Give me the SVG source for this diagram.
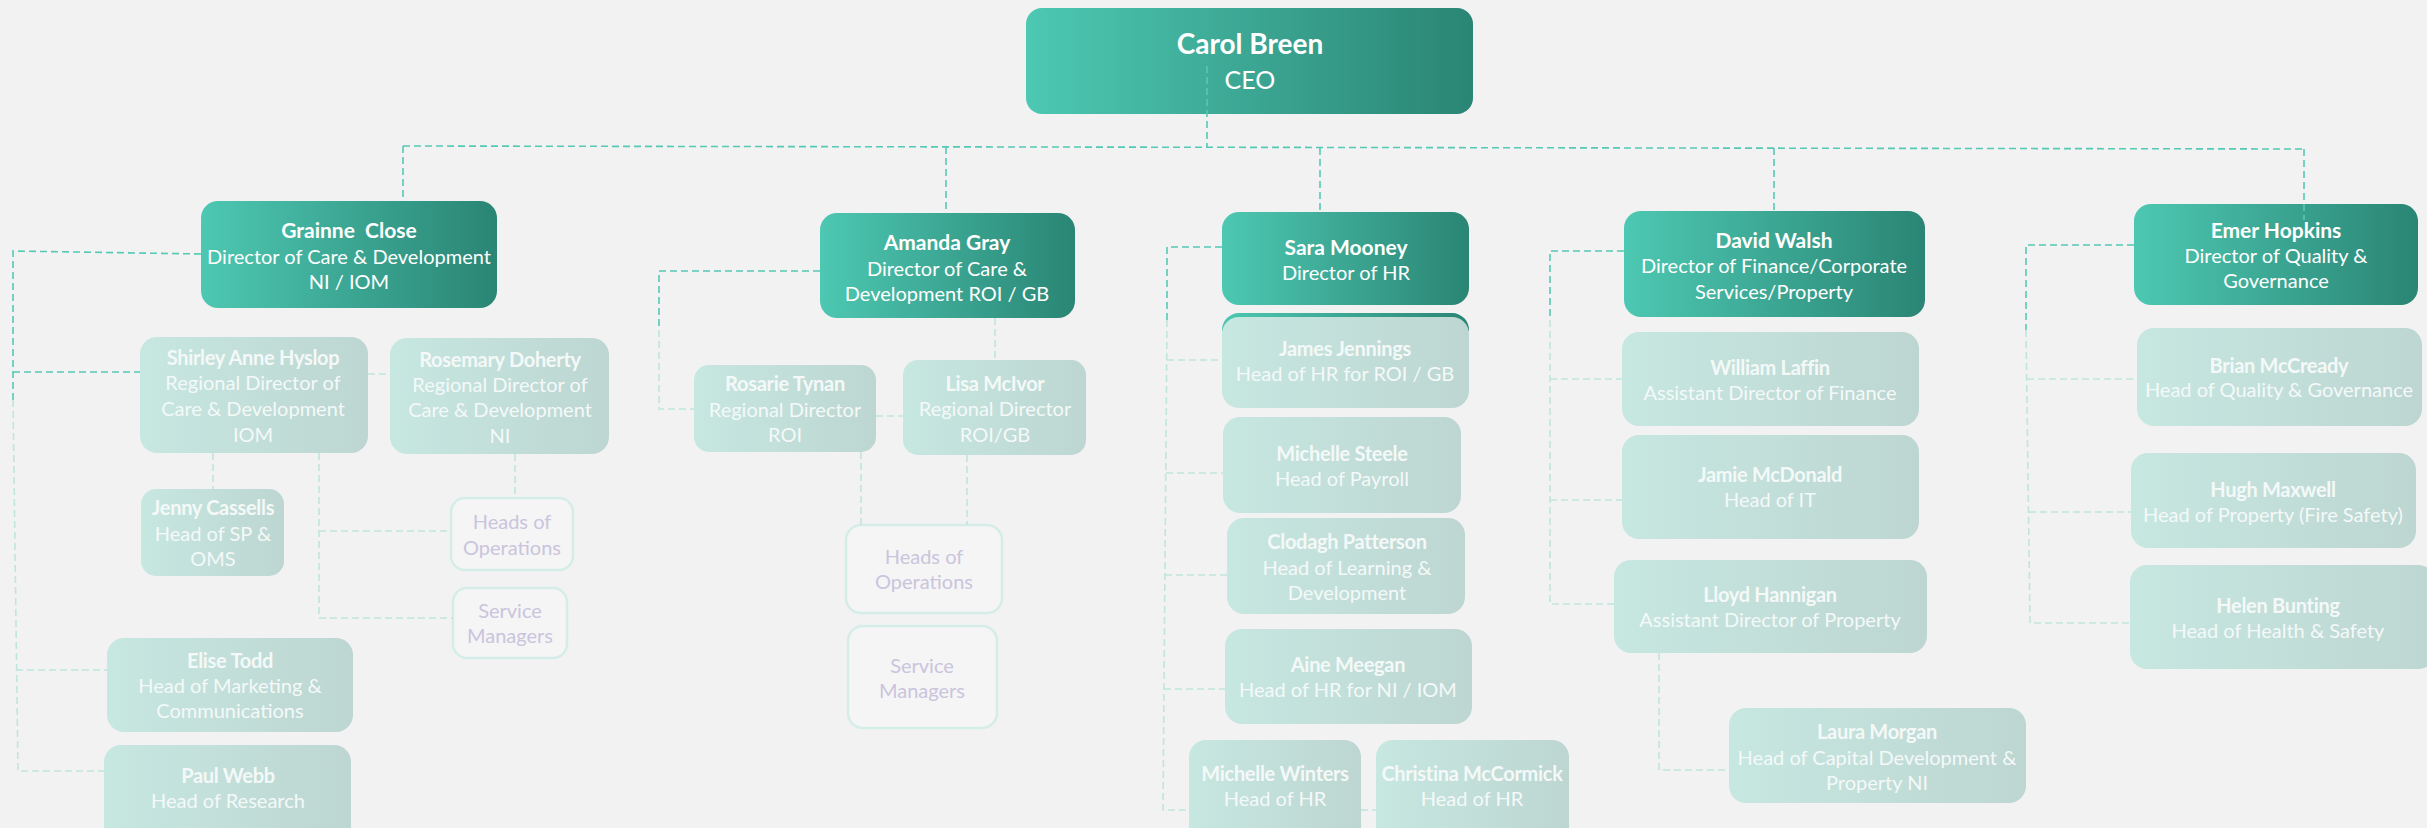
<svg xmlns="http://www.w3.org/2000/svg" width="2427" height="828" viewBox="0 0 2427 828">
<defs>
<linearGradient id="gDir" x1="0" y1="0" x2="1" y2="0">
<stop offset="0" stop-color="#4dc8b2"/>
<stop offset="1" stop-color="#2a8574"/>
</linearGradient>
<linearGradient id="gSub" x1="0" y1="0" x2="1" y2="0">
<stop offset="0" stop-color="#c7e7e1"/>
<stop offset="1" stop-color="#bdd6d1"/>
</linearGradient>
<style>
.dir{fill:url(#gDir)}
.sub{fill:url(#gSub)}
.ops{fill:#f5f5f5;stroke:#d5ede8;stroke-width:2.5}
text{font-family:Lato,"Open Sans","Liberation Sans",sans-serif;text-anchor:middle}
.dn{font-size:21px;font-weight:bold;fill:#ffffff}
.dr{font-size:20px;fill:#ffffff}
.sn{font-size:20px;font-weight:bold;fill:#f4f9f8;letter-spacing:-0.3px}
.sr{font-size:20px;fill:#f4f9f8}
.ot{font-size:20px;fill:#cac4dd}
.c1{fill:none;stroke:#55c9b5;stroke-width:1.6;stroke-dasharray:7 4}
.c2{fill:none;stroke:#c0e5dd;stroke-width:1.6;stroke-dasharray:7 4}
</style>
</defs>
<rect width="2427" height="828" fill="#f2f2f2"/>

<g id="ceo">
<rect class="dir" x="1026" y="8" width="447" height="106" rx="16"/>
<text x="1250" y="54" style="font-size:28px;font-weight:bold;fill:#fff">Carol Breen</text>
<text x="1250" y="89" style="font-size:25px;fill:#fff">CEO</text>
</g>

<g id="grainne">
<rect class="dir" x="201" y="201" width="296" height="107" rx="17"/>
<text class="dn" x="349" y="238" xml:space="preserve">Grainne  Close</text>
<text class="dr" x="349" y="264">Director of Care &amp; Development</text>
<text class="dr" x="349" y="289">NI / IOM</text>
</g>

<g id="amanda">
<rect class="dir" x="820" y="213" width="255" height="105" rx="17"/>
<text class="dn" x="947" y="250">Amanda Gray</text>
<text class="dr" x="947" y="276">Director of Care &amp;</text>
<text class="dr" x="947" y="301">Development ROI / GB</text>
</g>

<g id="sara">
<rect class="dir" x="1222" y="212" width="247" height="93" rx="17"/>
<text class="dn" x="1346" y="255">Sara Mooney</text>
<text class="dr" x="1346" y="280">Director of HR</text>
</g>

<g id="david">
<rect class="dir" x="1624" y="211" width="301" height="106" rx="17"/>
<text class="dn" x="1774" y="248">David Walsh</text>
<text class="dr" x="1774" y="273">Director of Finance/Corporate</text>
<text class="dr" x="1774" y="299">Services/Property</text>
</g>

<g id="emer">
<rect class="dir" x="2134" y="204" width="284" height="101" rx="17"/>
<text class="dn" x="2276" y="238">Emer Hopkins</text>
<text class="dr" x="2276" y="263">Director of Quality &amp;</text>
<text class="dr" x="2276" y="288">Governance</text>
</g>

<g id="shirley">
<rect class="sub" x="140" y="337" width="228" height="116" rx="17"/>
<text class="sn" x="253" y="365">Shirley Anne Hyslop</text>
<text class="sr" x="253" y="390">Regional Director of</text>
<text class="sr" x="253" y="416">Care &amp; Development</text>
<text class="sr" x="253" y="442">IOM</text>
</g>

<g id="rosemary">
<rect class="sub" x="390" y="338" width="219" height="116" rx="17"/>
<text class="sn" x="500" y="367">Rosemary Doherty</text>
<text class="sr" x="500" y="392">Regional Director of</text>
<text class="sr" x="500" y="417">Care &amp; Development</text>
<text class="sr" x="500" y="443">NI</text>
</g>

<g id="jenny">
<rect class="sub" x="141" y="489" width="143" height="87" rx="15"/>
<text class="sn" x="213" y="515">Jenny Cassells</text>
<text class="sr" x="213" y="541">Head of SP &amp;</text>
<text class="sr" x="213" y="566">OMS</text>
</g>

<g id="ops-ni">
<rect class="ops" x="451" y="498" width="122" height="72" rx="14"/>
<text class="ot" x="512" y="529">Heads of</text>
<text class="ot" x="512" y="555">Operations</text>
</g>

<g id="sm-ni">
<rect class="ops" x="453" y="588" width="114" height="70" rx="14"/>
<text class="ot" x="510" y="618">Service</text>
<text class="ot" x="510" y="643">Managers</text>
</g>

<g id="elise">
<rect class="sub" x="107" y="638" width="246" height="94" rx="17"/>
<text class="sn" x="230" y="668">Elise Todd</text>
<text class="sr" x="230" y="693">Head of Marketing &amp;</text>
<text class="sr" x="230" y="718">Communications</text>
</g>

<g id="paul">
<rect class="sub" x="104" y="745" width="247" height="105" rx="17"/>
<text class="sn" x="228" y="783">Paul Webb</text>
<text class="sr" x="228" y="808">Head of Research</text>
</g>

<g id="rosarie">
<rect class="sub" x="694" y="365" width="182" height="87" rx="15"/>
<text class="sn" x="785" y="391">Rosarie Tynan</text>
<text class="sr" x="785" y="417">Regional Director</text>
<text class="sr" x="785" y="442">ROI</text>
</g>

<g id="lisa">
<rect class="sub" x="903" y="360" width="183" height="95" rx="15"/>
<text class="sn" x="995" y="391">Lisa McIvor</text>
<text class="sr" x="995" y="416">Regional Director</text>
<text class="sr" x="995" y="442">ROI/GB</text>
</g>

<g id="ops-roi">
<rect class="ops" x="846" y="525" width="156" height="88" rx="15"/>
<text class="ot" x="924" y="564">Heads of</text>
<text class="ot" x="924" y="589">Operations</text>
</g>

<g id="sm-roi">
<rect class="ops" x="848" y="626" width="149" height="102" rx="15"/>
<text class="ot" x="922" y="673">Service</text>
<text class="ot" x="922" y="698">Managers</text>
</g>

<g id="james">
<path d="M1222 331 A17 17 0 0 1 1239 313 H1452 A17 17 0 0 1 1469 331 Z" fill="url(#gDir)"/>
<rect class="sub" x="1222" y="317" width="247" height="91" rx="17"/>
<text class="sn" x="1345" y="356">James Jennings</text>
<text class="sr" x="1345" y="381">Head of HR for ROI / GB</text>
</g>

<g id="steele">
<rect class="sub" x="1223" y="417" width="238" height="96" rx="17"/>
<text class="sn" x="1342" y="461">Michelle Steele</text>
<text class="sr" x="1342" y="486">Head of Payroll</text>
</g>

<g id="clodagh">
<rect class="sub" x="1227" y="518" width="238" height="96" rx="17"/>
<text class="sn" x="1347" y="549">Clodagh Patterson</text>
<text class="sr" x="1347" y="575">Head of Learning &amp;</text>
<text class="sr" x="1347" y="600">Development</text>
</g>

<g id="aine">
<rect class="sub" x="1225" y="629" width="247" height="95" rx="17"/>
<text class="sn" x="1348" y="672">Aine Meegan</text>
<text class="sr" x="1348" y="697">Head of HR for NI / IOM</text>
</g>

<g id="winters">
<rect class="sub" x="1189" y="740" width="172" height="110" rx="17"/>
<text class="sn" x="1275" y="781">Michelle Winters</text>
<text class="sr" x="1275" y="806">Head of HR</text>
</g>

<g id="christina">
<rect class="sub" x="1376" y="740" width="193" height="110" rx="17"/>
<text class="sn" x="1472" y="781">Christina McCormick</text>
<text class="sr" x="1472" y="806">Head of HR</text>
</g>

<g id="william">
<rect class="sub" x="1622" y="332" width="297" height="94" rx="17"/>
<text class="sn" x="1770" y="375">William Laffin</text>
<text class="sr" x="1770" y="400">Assistant Director of Finance</text>
</g>

<g id="jamie">
<rect class="sub" x="1622" y="435" width="297" height="104" rx="17"/>
<text class="sn" x="1770" y="482">Jamie McDonald</text>
<text class="sr" x="1770" y="507">Head of IT</text>
</g>

<g id="lloyd">
<rect class="sub" x="1614" y="560" width="313" height="93" rx="17"/>
<text class="sn" x="1770" y="602">Lloyd Hannigan</text>
<text class="sr" x="1770" y="627">Assistant Director of Property</text>
</g>

<g id="laura">
<rect class="sub" x="1729" y="708" width="297" height="95" rx="17"/>
<text class="sn" x="1877" y="739">Laura Morgan</text>
<text class="sr" x="1877" y="765">Head of Capital Development &amp;</text>
<text class="sr" x="1877" y="790">Property NI</text>
</g>

<g id="brian">
<rect class="sub" x="2137" y="328" width="285" height="98" rx="17"/>
<text class="sn" x="2279" y="373">Brian McCready</text>
<text class="sr" x="2279" y="397">Head of Quality &amp; Governance</text>
</g>

<g id="hugh">
<rect class="sub" x="2131" y="453" width="285" height="95" rx="17"/>
<text class="sn" x="2273" y="497">Hugh Maxwell</text>
<text class="sr" x="2273" y="522">Head of Property (Fire Safety)</text>
</g>

<g id="helen">
<rect class="sub" x="2130" y="565" width="305" height="104" rx="17"/>
<text class="sn" x="2278" y="613">Helen Bunting</text>
<text class="sr" x="2278" y="638">Head of Health &amp; Safety</text>
</g>

<g id="connectors">
<path class="c1" d="M1207 66 V147"/>
<path class="c1" d="M403 146 L2304 149"/>
<path class="c1" d="M403 146 V201 M946 147 V213 M1320 148 V212 M1774 148 V211 M2304 149 V220"/>
<path class="c1" d="M201 254 L13 251 V400"/>
<path class="c1" d="M13 372 H140"/>
<path class="c2" d="M13 400 L18 771 H104 M16 670 H107"/>
<path class="c2" d="M368 374 H390 M213 453 V489 M319 453 V618 H453 M319 531 H451 M515 454 V498"/>
<path class="c1" d="M820 271 H659 V330"/>
<path class="c2" d="M659 330 V409 H694 M876 416 H903 M995 318 V360 M861 452 V525 M967 455 V525"/>
<path class="c1" d="M1222 247 H1167 V320"/>
<path class="c2" d="M1167 320 L1163 810 H1189 M1361 810 H1376 M1167 360 H1222 M1166 473 H1223 M1165 575 H1227 M1164 689 H1225"/>
<path class="c1" d="M1624 251 H1550 V320"/>
<path class="c2" d="M1550 320 V604 H1614 M1550 379 H1622 M1550 500 H1622 M1659 653 V770 H1729"/>
<path class="c1" d="M2134 245 H2026 V330"/>
<path class="c2" d="M2026 330 L2030 623 H2130 M2027 379 H2137 M2029 512 H2131"/>
</g>
</svg>
